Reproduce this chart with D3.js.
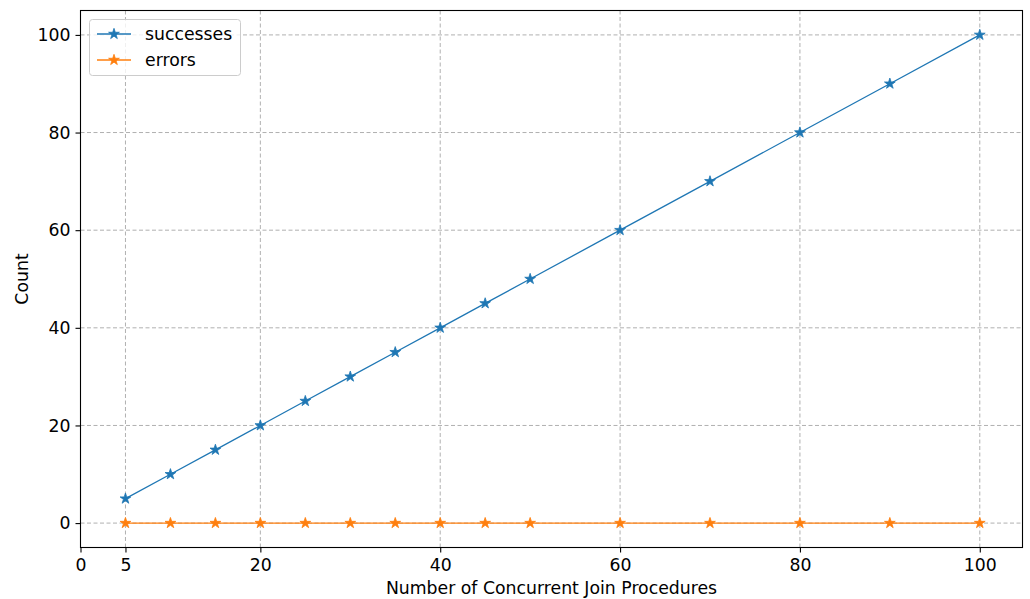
<!DOCTYPE html>
<html><head><meta charset="utf-8">
<script src="https://cdn.jsdelivr.net/npm/d3@7"></script>
<style>body{margin:0;background:#fff;}svg{display:block;font-family:"DejaVu Sans",sans-serif;}</style>
</head><body>
<svg id="c" width="1030" height="599"></svg>
<script>
const xValues = [5, 10, 15, 20, 25, 30, 35, 40, 45, 50, 60, 70, 80, 90, 100];
const successes = [5, 10, 15, 20, 25, 30, 35, 40, 45, 50, 60, 70, 80, 90, 100];
const errors = [0, 0, 0, 0, 0, 0, 0, 0, 0, 0, 0, 0, 0, 0, 0];
const xTicks = [0, 5, 20, 40, 60, 80, 100];
const yTicks = [0, 20, 40, 60, 80, 100];
const seriesNames = ["successes", "errors"];
const colors = ["#1f77b4", "#ff7f0e"];

const svg = d3.select("#c");
const L = 80.5, R = 1022.5, T = 10.5, B = 547.5;
const x = d3.scaleLinear().domain([0, 104.75]).range([L, R]);
const y = d3.scaleLinear().domain([-5, 105]).range([B, T]);
const fs = 17.3;

// grid
const g = svg.append("g");
xTicks.forEach(t => g.append("line").attr("x1", x(t)).attr("x2", x(t)).attr("y1", T).attr("y2", B)
  .attr("stroke", "#b0b0b0").attr("stroke-width", 1).attr("stroke-dasharray", "4,2.5"));
yTicks.forEach(t => g.append("line").attr("x1", L).attr("x2", R).attr("y1", y(t)).attr("y2", y(t))
  .attr("stroke", "#b0b0b0").attr("stroke-width", 1).attr("stroke-dasharray", "4,2.5"));

// series
const series = [successes, errors];
const star = d3.symbol().type(d3.symbolStar).size(36);
series.forEach((vals, i) => {
  const data = xValues.map((v, j) => [v, vals[j]]);
  svg.append("path").datum(data)
    .attr("d", d3.line().x(d => x(d[0])).y(d => y(d[1])))
    .attr("fill", "none").attr("stroke", colors[i]).attr("stroke-width", 1.3);
  svg.selectAll(null).data(data).enter().append("path")
    .attr("d", star).attr("transform", d => `translate(${x(d[0])},${y(d[1])})`)
    .attr("fill", colors[i]).attr("stroke", colors[i]).attr("stroke-width", 0.8);
});

// axes
const xAxis = svg.append("g").attr("transform", `translate(0,${B})`)
  .call(d3.axisBottom(x).tickValues(xTicks).tickSize(5).tickPadding(6).tickFormat(d3.format("d")));
const yAxis = svg.append("g").attr("transform", `translate(${L},0)`)
  .call(d3.axisLeft(y).tickValues(yTicks).tickSize(5).tickPadding(5).tickFormat(d3.format("d")));
[xAxis, yAxis].forEach(a => {
  a.select(".domain").remove();
  a.selectAll("text").attr("font-size", fs).attr("fill", "#000").attr("font-family", "DejaVu Sans");
  a.selectAll("line").attr("stroke", "#000").attr("stroke-width", 1.1);
});
svg.append("rect").attr("x", L).attr("y", T).attr("width", R - L).attr("height", B - T)
  .attr("fill", "none").attr("stroke", "#000").attr("stroke-width", 1.1);

// labels
svg.append("text").attr("x", (L + R) / 2).attr("y", 594).attr("text-anchor", "middle")
  .attr("font-size", fs).text("Number of Concurrent Join Procedures");
svg.append("text").attr("transform", `translate(28,${(T + B) / 2}) rotate(-90)`).attr("text-anchor", "middle")
  .attr("font-size", fs).text("Count");

// legend
const lg = svg.append("g");
lg.append("rect").attr("x", 89.5).attr("y", 19.5).attr("width", 151).attr("height", 56).attr("rx", 3)
  .attr("fill", "#fff").attr("fill-opacity", 0.8).attr("stroke", "#cccccc").attr("stroke-width", 1);
seriesNames.forEach((n, i) => {
  const yy = 34 + i * 26;
  lg.append("line").attr("x1", 97).attr("x2", 131).attr("y1", yy).attr("y2", yy)
    .attr("stroke", colors[i]).attr("stroke-width", 1.3);
  lg.append("path").attr("d", star).attr("transform", `translate(114,${yy})`)
    .attr("fill", colors[i]).attr("stroke", colors[i]).attr("stroke-width", 0.8);
  lg.append("text").attr("x", 145).attr("y", yy + 6).attr("font-size", fs).text(n);
});
</script>
</body></html>
